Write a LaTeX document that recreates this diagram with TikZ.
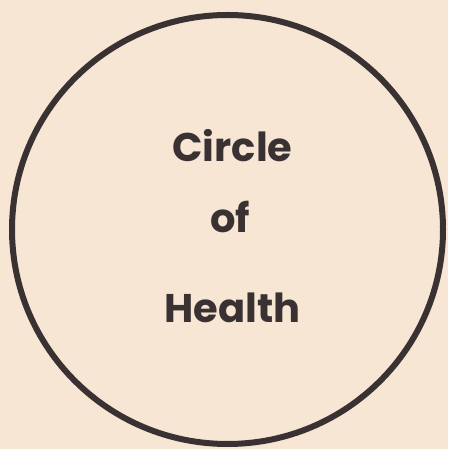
\documentclass[tikz,border=0pt]{standalone}
\usepackage{fontspec}
\setmainfont{Poppins}[BoldFont={Poppins Bold}]
\definecolor{paper}{HTML}{F6E6D3}
\definecolor{ink}{HTML}{3A3133}
\begin{document}
\begin{tikzpicture}[x=1pt,y=1pt,
  lbl/.style={anchor=base,text=ink,font=\bfseries\fontsize{40}{42}\selectfont,inner sep=0pt}]
\fill[paper] (0,0) rectangle (448,449);
\useasboundingbox (0,0) rectangle (448,449);
\draw[ink,line width=6pt] (227.5,219.5) ellipse [x radius=215.5, y radius=214.5];
\node[lbl] (c) at (232.5,287) {Circle};
\node[lbl] (o) at (230,216) {of};
\node[lbl] (h) at (232.5,126) {Health};
\end{tikzpicture}
\end{document}
